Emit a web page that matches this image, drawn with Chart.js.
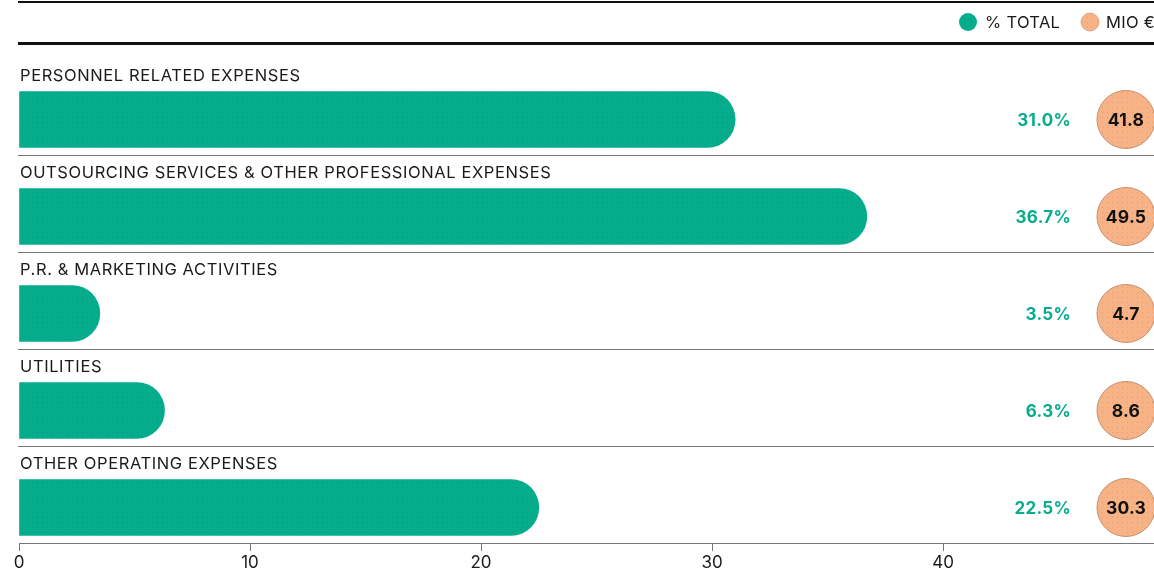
<!DOCTYPE html>
<html>
<head>
<meta charset="utf-8">
<script src="https://cdn.jsdelivr.net/npm/chart.js@4"></script>
<style>
  html, body { margin: 0; padding: 0; background: #fff; }
  #wrap { width: 1154px; height: 570px; }
</style>
</head>
<body>
<div id="wrap"><canvas id="myChart" width="1154" height="570"></canvas></div>
<script>
const categories = [
  'PERSONNEL RELATED EXPENSES',
  'OUTSOURCING SERVICES & OTHER PROFESSIONAL EXPENSES',
  'P.R. & MARKETING ACTIVITIES',
  'UTILITIES',
  'OTHER OPERATING EXPENSES'
];
const pctTotal = [31.0, 36.7, 3.5, 6.3, 22.5];
const mioEur = [41.8, 49.5, 4.7, 8.6, 30.3];
const xTicks = [0, 10, 20, 30, 40];
const seriesNames = ['% TOTAL', 'MIO €'];

const FONT = 'Inter, "Noto Sans", sans-serif';
const GREEN = '#06ad8d';
const ORANGE = '#f7b386';

// small dotted texture for the bars and bubbles
function dotted(base, dot) {
  const c = document.createElement('canvas');
  c.width = 5; c.height = 5;
  const g = c.getContext('2d');
  g.fillStyle = base;
  g.fillRect(0, 0, 5, 5);
  g.fillStyle = dot;
  g.fillRect(2, 2, 1, 1);
  return g.createPattern(c, 'repeat');
}

const ctx = document.getElementById('myChart').getContext('2d');
const barFill = dotted(GREEN, '#089a7e');
const bubbleFill = dotted(ORANGE, '#dc9f78');

const decorations = {
  id: 'decorations',
  afterDraw(chart) {
    const c = chart.ctx;
    const ys = chart.scales.y;
    c.save();

    // top rules
    c.fillStyle = '#111';
    c.fillRect(18, 1, 1136, 2);
    c.fillRect(18, 42, 1136, 3);

    // legend
    c.font = '16.5px ' + FONT;
    c.textBaseline = 'middle';
    c.textAlign = 'left';
    c.letterSpacing = '0.3px';
    c.fillStyle = GREEN;
    c.beginPath(); c.arc(968, 22, 9, 0, Math.PI * 2); c.fill();
    c.fillStyle = '#1a1a1a';
    c.fillText(seriesNames[0], 985, 23);
    c.fillStyle = bubbleFill;
    c.beginPath(); c.arc(1090, 22, 9, 0, Math.PI * 2); c.fill();
    c.strokeStyle = '#d59a73'; c.lineWidth = 0.8; c.stroke();
    c.fillStyle = '#1a1a1a';
    c.fillText(seriesNames[1], 1106, 23);

    categories.forEach((name, i) => {
      const y = ys.getPixelForValue(i);

      // row title
      c.font = '16.5px ' + FONT;
      c.letterSpacing = '0.6px';
      c.textAlign = 'left';
      c.fillStyle = '#1a1a1a';
      c.fillText(name, 20, y - 43);

      // separator under the row (last one is the x axis)
      if (i < categories.length - 1) {
        c.fillStyle = '#777';
        c.fillRect(18, Math.round(y + 36), 1136, 1);
      }

      // percentage
      c.font = 'bold 17px ' + FONT;
      c.letterSpacing = '0.3px';
      c.textAlign = 'right';
      c.fillStyle = GREEN;
      c.fillText(pctTotal[i].toFixed(1) + '%', 1071, y + 1);

      // MIO € bubble
      c.fillStyle = bubbleFill;
      c.beginPath(); c.arc(1126, y, 29, 0, Math.PI * 2); c.fill();
      c.strokeStyle = '#c4906e'; c.lineWidth = 1; c.stroke();
      c.font = 'bold 17.5px ' + FONT;
      c.letterSpacing = '0.2px';
      c.textAlign = 'center';
      c.fillStyle = '#111';
      c.fillText(mioEur[i].toFixed(1), 1126, y + 1);
    });
    c.restore();
  }
};

new Chart(ctx, {
  type: 'bar',
  data: {
    datasets: [{
      label: seriesNames[0],
      data: pctTotal.map((v, i) => ({ x: v, y: i })),
      backgroundColor: barFill,
      barThickness: 56,
      borderRadius: 28,
      borderSkipped: 'start'
    }]
  },
  options: {
    responsive: false,
    animation: false,
    indexAxis: 'y',
    layout: { padding: { top: 44, left: 19, right: 0, bottom: 0 } },
    plugins: {
      legend: { display: false },
      tooltip: { enabled: false }
    },
    scales: {
      x: {
        type: 'linear',
        min: 0,
        max: 49.13,
        afterBuildTicks(scale) {
          scale.ticks = xTicks.map(v => ({ value: v }));
        },
        afterFit(scale) { scale.height = 27; },
        border: { display: true, color: '#777', width: 1 },
        grid: { drawOnChartArea: false, drawTicks: true, tickLength: 8, color: '#777' },
        ticks: { padding: 2, color: '#1a1a1a', font: { family: FONT, size: 17 } }
      },
      y: {
        type: 'linear',
        reverse: true,
        offset: false,
        min: -0.778,
        max: 4.366,
        display: false
      }
    }
  },
  plugins: [decorations]
});
</script>
</body>
</html>
